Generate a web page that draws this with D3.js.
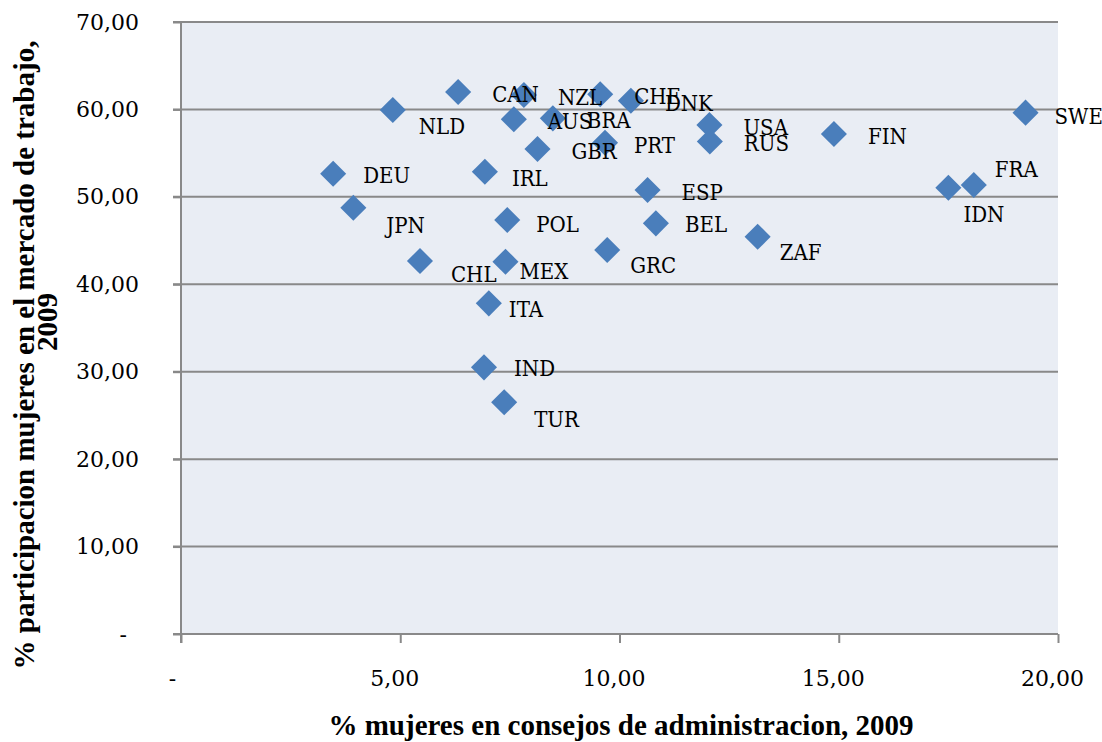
<!DOCTYPE html>
<html>
<head>
<meta charset="utf-8">
<script src="https://cdn.jsdelivr.net/npm/d3@7"></script>
<style>
  body { margin: 0; background: #fff; }
  svg { display: block; }
  .tick-label { font-family: "DejaVu Serif", serif; font-size: 22px; fill: #000; }
  .point-label { font-family: "DejaVu Serif", serif; font-stretch: condensed; font-size: 22px; fill: #000; }
  .axis-title { font-family: "Liberation Serif", serif; font-weight: bold; font-size: 29px; fill: #000; }
</style>
</head>
<body>
<svg id="chart" width="1102" height="742"></svg>
<script>
// Country codes, share of women on boards (x) and female labour participation (y), 2009
const countries = ["NLD", "CAN", "NZL", "CHE", "DNK", "AUS", "BRA", "PRT", "GBR", "USA",
                   "RUS", "FIN", "SWE", "DEU", "IRL", "ESP", "JPN", "POL", "BEL", "GRC",
                   "ZAF", "IDN", "FRA", "CHL", "MEX", "ITA", "IND", "TUR"];
const boardShare = [4.83, 6.32, 7.82, 9.56, 10.26, 7.59, 8.48, 9.67, 8.13, 12.05,
                    12.06, 14.89, 19.26, 3.47, 6.93, 10.64, 3.93, 7.44, 10.83, 9.72,
                    13.15, 17.50, 18.08, 5.45, 7.40, 7.02, 6.91, 7.37];
const laborShare = [59.93, 62.0, 61.65, 61.73, 61.0, 58.87, 58.98, 56.19, 55.47, 58.22,
                    56.34, 57.19, 59.63, 52.65, 52.88, 50.78, 48.76, 47.35, 46.97, 43.92,
                    45.44, 51.05, 51.36, 42.66, 42.58, 37.82, 30.50, 26.50];
const xTicks = [0, 5, 10, 15, 20];
const yTicks = [0, 10, 20, 30, 40, 50, 60, 70];

// Label placement (pixels from the marker), like the hand-moved labels in the original
const labelNudge = {
    NLD: [26, 24], PRT: [29, 10], SWE: [29, 11], DEU: [30, 9], IRL: [27, 14],
    JPN: [33, 25], POL: [29, 12], BEL: [29, 9], GRC: [23, 23], ZAF: [22, 23],
    IDN: [15, 34], FRA: [21, -8], CHL: [31, 21], MEX: [14, 17], ITA: [20, 14],
    IND: [30, 9], TUR: [30, 25]
};
const defaultNudge = [34, 10];

const svg = d3.select("#chart");
const plotL = 181, plotR = 1058, plotT = 22, plotB = 634;

const x = d3.scaleLinear().domain([0, 20]).range([plotL, plotR]);
const y = d3.scaleLinear().domain([0, 70]).range([plotB, plotT]);

const fmt = v => v === 0 ? "-" : d3.format(".2f")(v).replace(".", ",");

// Plot background
svg.append("rect")
    .attr("x", plotL).attr("y", plotT)
    .attr("width", plotR - plotL).attr("height", plotB - plotT)
    .attr("fill", "#e9edf4");

// Horizontal gridlines with short ticks to the left
const grid = svg.append("g");
grid.selectAll("line")
    .data(yTicks.filter(d => d > 0))
    .join("line")
    .attr("x1", plotL - 8).attr("x2", plotR)
    .attr("y1", d => y(d)).attr("y2", d => y(d))
    .attr("stroke", "#898989").attr("stroke-width", 2);

// Y axis
const yAxis = svg.append("g")
    .attr("transform", `translate(${plotL},0)`)
    .call(d3.axisLeft(y).tickValues(yTicks).tickFormat(fmt).tickSize(8).tickPadding(34));
yAxis.select(".domain").attr("stroke", "#898989").attr("stroke-width", 2)
    .attr("d", `M0,${plotT}V${plotB + 9}`);
yAxis.selectAll(".tick line").attr("stroke", "#898989").attr("stroke-width", 2);
yAxis.selectAll(".tick text").attr("class", "tick-label")
    .attr("dx", d => d === 0 ? -12 : 0);

// X axis
const xAxis = svg.append("g")
    .attr("transform", `translate(0,${plotB})`)
    .call(d3.axisBottom(x).tickValues(xTicks).tickFormat(fmt).tickSize(9).tickPadding(27));
xAxis.select(".domain").attr("stroke", "#898989").attr("stroke-width", 2)
    .attr("d", `M${plotL - 8},0H${plotR}`);
xAxis.selectAll(".tick line").attr("stroke", "#898989").attr("stroke-width", 2);
xAxis.selectAll(".tick text").attr("class", "tick-label")
    .attr("dx", d => d === 0 ? -9 : -6);

svg.selectAll("g").attr("font-family", null).attr("font-size", null);
svg.selectAll(".domain").attr("fill", "none");

// Points
const rows = countries.map((c, i) => ({ code: c, bx: boardShare[i], ly: laborShare[i] }));

const diamond = d3.symbol(d3.symbolSquare, 340);
svg.append("g")
    .selectAll("path")
    .data(rows)
    .join("path")
    .attr("d", diamond)
    .attr("transform", d => `translate(${x(d.bx)},${y(d.ly)}) rotate(45)`)
    .attr("fill", "#4a7ebb");

svg.append("g")
    .selectAll("text")
    .data(rows)
    .join("text")
    .attr("class", "point-label")
    .attr("x", d => x(d.bx) + (labelNudge[d.code] || defaultNudge)[0])
    .attr("y", d => y(d.ly) + (labelNudge[d.code] || defaultNudge)[1])
    .text(d => d.code);

// Axis titles
svg.append("text")
    .attr("class", "axis-title")
    .attr("x", 621).attr("y", 735)
    .attr("text-anchor", "middle")
    .text("% mujeres en consejos de administracion, 2009");

const yTitle = svg.append("text")
    .attr("class", "axis-title")
    .attr("text-anchor", "middle")
    .attr("transform", "rotate(-90)");
yTitle.append("tspan")
    .attr("x", -355).attr("y", 34)
    .text("% participacion mujeres en el mercado de trabajo,");
yTitle.append("tspan")
    .attr("x", -322).attr("y", 57)
    .text("2009");
</script>
</body>
</html>
